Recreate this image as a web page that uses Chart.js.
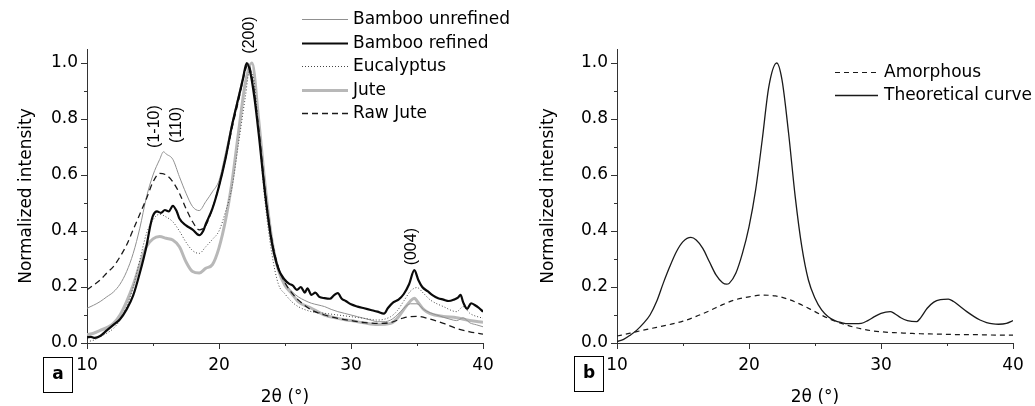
<!DOCTYPE html>
<html><head><meta charset="utf-8">
<script src="https://cdn.jsdelivr.net/npm/chart.js@4"></script>
<style>
html,body{margin:0;padding:0;background:#fff;overflow:hidden}
#wrap{position:relative;width:1035px;height:406px;background:#fff}
canvas{position:absolute;top:0}
</style></head><body>
<div id="wrap">
<canvas id="ca" width="517" height="406" style="left:0"></canvas>
<canvas id="cb" width="518" height="406" style="left:517px"></canvas>
</div>
<script>
// ---------- tick labels ----------
const xTickLabels = [10, 20, 30, 40];
const yTickLabels = ['0.0', '0.2', '0.4', '0.6', '0.8', '1.0'];

// ---------- panel a series ----------
const xUnrefined = [10,10.5,11,11.5,12,12.5,13,13.5,14,14.5,15,15.5,15.8,16,16.5,17,17.5,18,18.5,19,19.5,20,20.5,21,21.5,22,22.2,22.5,23,23.5,24,24.5,25,25.5,26,26.5,27,27.5,28,28.5,29,29.5,30,30.5,31,31.5,32,32.5,33,33.5,34,34.5,35,35.5,36,36.5,37,37.5,38,38.5,39,39.5,40];
const yUnrefined = [0.124,0.135,0.148,0.165,0.182,0.21,0.255,0.32,0.41,0.52,0.6,0.655,0.683,0.675,0.656,0.594,0.535,0.487,0.473,0.505,0.54,0.58,0.68,0.79,0.89,0.985,1.0,0.95,0.76,0.53,0.36,0.26,0.215,0.185,0.165,0.152,0.142,0.136,0.13,0.12,0.112,0.106,0.1,0.094,0.088,0.082,0.076,0.076,0.082,0.1,0.124,0.14,0.14,0.12,0.108,0.1,0.092,0.085,0.08,0.09,0.072,0.065,0.058];

const xRefined = [10,10.3,10.6,11,11.5,12,12.5,13,13.5,14,14.5,14.8,15,15.3,15.6,15.9,16.2,16.5,16.8,17,17.5,18,18.5,18.8,19,19.5,20,20.5,21,21.5,21.8,22.1,22.4,22.7,23,23.5,24,24.5,25,25.3,25.6,25.9,26.2,26.5,26.7,27,27.3,27.6,28,28.4,28.7,29,29.3,29.6,30,30.5,31,31.5,32,32.5,32.8,33.2,33.6,34,34.4,34.8,35.1,35.4,35.8,36.2,36.6,37,37.4,37.8,38.1,38.3,38.5,38.8,39.1,39.4,39.7,40];
const yRefined = [0.02,0.022,0.018,0.025,0.045,0.065,0.085,0.12,0.17,0.25,0.345,0.42,0.455,0.47,0.465,0.475,0.47,0.49,0.47,0.445,0.42,0.405,0.385,0.4,0.425,0.48,0.56,0.66,0.78,0.88,0.94,1.0,0.96,0.87,0.75,0.53,0.36,0.265,0.225,0.212,0.205,0.19,0.2,0.18,0.195,0.172,0.18,0.165,0.16,0.158,0.17,0.178,0.158,0.15,0.138,0.13,0.124,0.118,0.112,0.105,0.125,0.145,0.155,0.175,0.21,0.26,0.225,0.2,0.185,0.17,0.16,0.155,0.15,0.155,0.162,0.172,0.145,0.122,0.142,0.135,0.125,0.112];

const xEucalyptus = [10,10.5,11,11.5,12,12.5,13,13.5,14,14.5,15,15.5,16,16.5,17,17.5,18,18.5,19,19.5,20,20.5,21,21.5,22,22.3,22.6,23,23.5,24,24.5,25,25.5,26,27,28,29,30,31,32,33,33.5,34,34.5,35,35.5,36,37,38,38.5,39,40];
const yEucalyptus = [0.005,0.01,0.023,0.035,0.052,0.082,0.13,0.2,0.296,0.39,0.44,0.46,0.45,0.433,0.4,0.36,0.33,0.32,0.344,0.37,0.4,0.47,0.56,0.72,0.88,0.97,0.95,0.76,0.5,0.32,0.21,0.175,0.148,0.13,0.112,0.106,0.1,0.094,0.088,0.082,0.094,0.115,0.15,0.185,0.198,0.177,0.154,0.13,0.112,0.13,0.106,0.088];

const xJute = [10,10.5,11,11.5,12,12.5,13,13.5,14,14.5,15,15.5,16,16.5,17,17.5,18,18.5,19,19.5,20,20.5,21,21.5,22,22.5,23,23.5,24,24.5,25,25.5,26,27,28,29,30,31,32,33,33.5,34,34.5,34.8,35,35.5,36,37,38,39,40];
const yJute = [0.03,0.035,0.045,0.055,0.07,0.1,0.148,0.207,0.28,0.344,0.372,0.38,0.374,0.368,0.344,0.29,0.255,0.25,0.267,0.28,0.34,0.44,0.58,0.76,0.93,1.0,0.8,0.56,0.37,0.26,0.205,0.177,0.148,0.124,0.1,0.088,0.08,0.072,0.066,0.07,0.088,0.12,0.15,0.16,0.15,0.12,0.105,0.095,0.09,0.08,0.074];

const xRawJute = [10,10.5,11,11.5,12,12.5,13,13.5,14,14.5,15,15.5,16,16.5,17,17.5,18,18.5,19,19.5,20,20.5,21,21.5,22,22.2,22.5,23,23.5,24,24.5,25,25.5,26,27,28,29,30,31,32,33,34,35,36,37,38,39,40];
const yRawJute = [0.19,0.207,0.225,0.25,0.273,0.308,0.35,0.405,0.46,0.515,0.575,0.606,0.6,0.576,0.535,0.48,0.433,0.404,0.42,0.48,0.56,0.66,0.77,0.87,0.975,0.995,0.95,0.77,0.54,0.37,0.27,0.215,0.18,0.154,0.118,0.1,0.088,0.08,0.073,0.07,0.073,0.09,0.095,0.085,0.07,0.052,0.04,0.032];

// ---------- panel b series ----------
const xTheory = [10,10.5,11,11.5,12,12.5,13,13.5,14,14.5,15,15.6,16,16.5,17,17.5,18,18.3,18.5,19,19.5,20,20.5,21,21.5,22.1,22.5,23,23.5,24,24.5,25,25.5,26,26.5,27,27.5,28,28.5,29,29.5,30,30.7,31,31.5,32,32.7,33,33.5,34,34.5,35.1,35.5,36,36.5,37,37.5,38,38.5,38.9,39.5,40];
const yTheory = [0.005,0.013,0.028,0.046,0.07,0.1,0.148,0.213,0.273,0.326,0.362,0.377,0.368,0.338,0.29,0.243,0.215,0.21,0.213,0.249,0.32,0.415,0.546,0.725,0.915,1.0,0.94,0.749,0.523,0.344,0.225,0.16,0.118,0.094,0.08,0.073,0.069,0.069,0.07,0.08,0.094,0.106,0.112,0.106,0.09,0.08,0.076,0.09,0.124,0.146,0.155,0.157,0.148,0.13,0.112,0.096,0.082,0.073,0.068,0.067,0.07,0.08];

const xAmorphous = [10,11,12,13,14,15,16,17,18,19,20,21,22,23,24,25,26,27,28,29,30,31,32,33,34,35,36,37,38,39,40];
const yAmorphous = [0.025,0.035,0.046,0.056,0.066,0.078,0.095,0.115,0.137,0.155,0.165,0.171,0.168,0.156,0.136,0.112,0.088,0.07,0.056,0.046,0.04,0.037,0.035,0.033,0.032,0.031,0.03,0.03,0.029,0.028,0.028];

// ---------- text ----------
const seriesNamesA = ['Bamboo unrefined', 'Bamboo refined', 'Eucalyptus', 'Jute', 'Raw Jute'];
const seriesNamesB = ['Amorphous', 'Theoretical curve'];
const peakTexts = ['(1-10)', '(110)', '(200)', '(004)'];
const peakAt = [[15.15, 0.773], [16.8, 0.779], [22.3, 1.1], [34.6, 0.344]];

const pts = (xs, ys) => xs.map((x, i) => ({x: x, y: ys[i]}));

const FONT = '"DejaVu Sans", sans-serif';
const AXC = '#333';

function scalesCfg(titlePad, yWidth) {
  return {
    x: {
      type: 'linear', min: 10, max: 40,
      ticks: {
        stepSize: 5, autoSkip: false, maxRotation: 0, padding: 6, color: '#000',
        font: {family: FONT, size: 17},
        callback: v => xTickLabels.includes(v) ? String(v) : ''
      },
      grid: {
        drawOnChartArea: false, tickLength: 6, tickWidth: 1,
        tickColor: c => (c.tick && xTickLabels.includes(c.tick.value)) ? AXC : 'rgba(0,0,0,0)'
      },
      border: {color: AXC, width: 1},
      title: {display: true, text: '2θ (°)', color: '#000',
        font: {family: FONT, size: 17, lineHeight: 1}, padding: {top: 0, bottom: 0}},
      afterFit: s => { s.height = 63; }
    },
    y: {
      type: 'linear', min: 0, max: 1.05,
      ticks: {
        stepSize: 0.1, includeBounds: false, padding: 3, color: '#000',
        font: {family: FONT, size: 17},
        callback: v => { const k = Math.round(v * 10); return k % 2 === 0 ? yTickLabels[k / 2] : ''; }
      },
      grid: {
        drawOnChartArea: false, tickLength: 6, tickWidth: 1,
        tickColor: c => (c.tick && Math.round(c.tick.value * 10) % 2 === 0) ? AXC : 'rgba(0,0,0,0)'
      },
      border: {color: AXC, width: 1},
      title: {display: true, text: 'Normalized intensity', color: '#000',
        font: {family: FONT, size: 17, lineHeight: 1}, padding: {top: titlePad, bottom: 0}},
      afterFit: s => { s.width = yWidth; }
    }
  };
}

const minorTicks = {
  id: 'minorTicks',
  afterDraw(chart) {
    const ctx = chart.ctx, xs = chart.scales.x, ys = chart.scales.y, ca = chart.chartArea;
    ctx.save(); ctx.strokeStyle = AXC; ctx.lineWidth = 1;
    ctx.beginPath();
    [15, 25, 35].forEach(v => { const p = Math.round(xs.getPixelForValue(v)) + 0.5; ctx.moveTo(p, ca.bottom); ctx.lineTo(p, ca.bottom + 3); });
    [0.1, 0.3, 0.5, 0.7, 0.9].forEach(v => { const p = Math.round(ys.getPixelForValue(v)) + 0.5; ctx.moveTo(ca.left, p); ctx.lineTo(ca.left - 3, p); });
    ctx.stroke(); ctx.restore();
  }
};

function panelLabel(letter, bx, by) {
  return {
    id: 'panel' + letter,
    afterDraw(chart) {
      const ctx = chart.ctx;
      ctx.save();
      ctx.strokeStyle = '#000'; ctx.lineWidth = 1;
      ctx.strokeRect(bx + 0.5, by + 0.5, 29, 35);
      ctx.fillStyle = '#000'; ctx.font = 'bold 17px ' + FONT;
      ctx.textAlign = 'center'; ctx.textBaseline = 'middle';
      ctx.fillText(letter, bx + 15, by + 18);
      ctx.restore();
    }
  };
}

function legendPlugin(lx0, lx1, tx, ys) {
  return {
    id: 'customLegend',
    afterDraw(chart) {
      const ctx = chart.ctx;
      ctx.save();
      chart.data.datasets.forEach((ds, i) => {
        const y = ys[i];
        ctx.strokeStyle = ds.borderColor; ctx.lineWidth = ds.borderWidth;
        ctx.setLineDash(ds.borderDash || []);
        ctx.beginPath(); ctx.moveTo(lx0, y + 0.5); ctx.lineTo(lx1, y + 0.5); ctx.stroke();
        ctx.setLineDash([]);
        ctx.fillStyle = '#000'; ctx.font = '17px ' + FONT;
        ctx.textAlign = 'left'; ctx.textBaseline = 'middle';
        ctx.fillText(ds.label, tx, y + 1);
      });
      ctx.restore();
    }
  };
}

const peakLabels = {
  id: 'peakLabels',
  afterDraw(chart) {
    const ctx = chart.ctx, xs = chart.scales.x, ys = chart.scales.y;
    ctx.save();
    ctx.fillStyle = '#000'; ctx.font = '16px "Liberation Sans", Arial, sans-serif';
    ctx.textAlign = 'center'; ctx.textBaseline = 'middle';
    peakTexts.forEach((t, i) => {
      const px = xs.getPixelForValue(peakAt[i][0]), py = ys.getPixelForValue(peakAt[i][1]);
      ctx.save(); ctx.translate(px, py); ctx.rotate(-Math.PI / 2); ctx.fillText(t, 0, 0); ctx.restore();
    });
    ctx.restore();
  }
};

const common = {
  responsive: false, animation: false, devicePixelRatio: 1,
  plugins: {legend: {display: false}, tooltip: {enabled: false}},
  elements: {point: {radius: 0}, line: {cubicInterpolationMode: 'monotone'}}
};

// ---------- chart a ----------
new Chart(document.getElementById('ca'), {
  type: 'line',
  data: {
    datasets: [
      {label: seriesNamesA[0], data: pts(xUnrefined, yUnrefined), borderColor: '#909090', borderWidth: 1, order: 3},
      {label: seriesNamesA[1], data: pts(xRefined, yRefined), borderColor: '#0a0a0a', borderWidth: 2.2, order: 0},
      {label: seriesNamesA[2], data: pts(xEucalyptus, yEucalyptus), borderColor: '#444', borderWidth: 1, borderDash: [1, 2], order: 2},
      {label: seriesNamesA[3], data: pts(xJute, yJute), borderColor: '#b8b8b8', borderWidth: 3, order: 4},
      {label: seriesNamesA[4], data: pts(xRawJute, yRawJute), borderColor: '#1a1a1a', borderWidth: 1.3, borderDash: [6, 4], order: 1}
    ]
  },
  options: Object.assign({}, common, {
    layout: {padding: {top: 49, right: 34, bottom: 0, left: 0}},
    scales: scalesCfg(18.5, 87)
  }),
  plugins: [minorTicks, panelLabel('a', 43, 357), legendPlugin(302, 348, 353, [19, 43, 66, 90, 113]), peakLabels]
});

// ---------- chart b ----------
new Chart(document.getElementById('cb'), {
  type: 'line',
  data: {
    datasets: [
      {label: seriesNamesB[0], data: pts(xAmorphous, yAmorphous), borderColor: '#1a1a1a', borderWidth: 1.2, borderDash: [5, 4]},
      {label: seriesNamesB[1], data: pts(xTheory, yTheory), borderColor: '#1a1a1a', borderWidth: 1.3}
    ]
  },
  options: Object.assign({}, common, {
    layout: {padding: {top: 49, right: 22, bottom: 0, left: 0}},
    scales: scalesCfg(23.5, 100)
  }),
  plugins: [minorTicks, panelLabel('b', 57, 356), legendPlugin(318, 361, 367, [72, 95])]
});
</script>
</body></html>
